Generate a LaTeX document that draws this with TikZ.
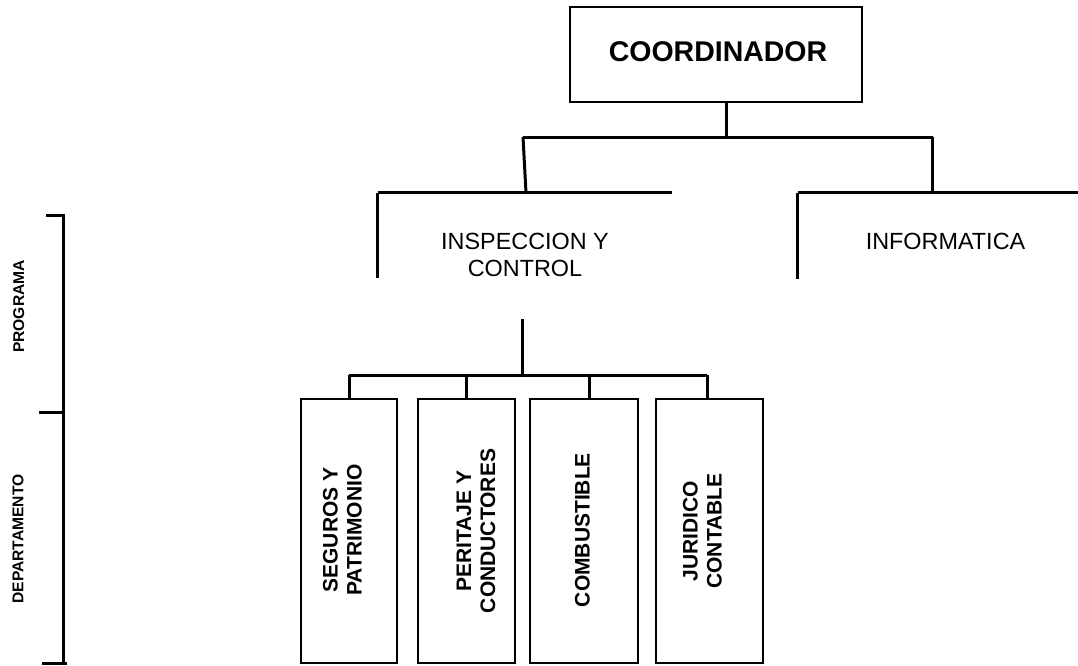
\documentclass[tikz,border=0pt]{standalone}
\usepackage{fontspec}
\setmainfont{Liberation Sans}
\begin{document}
\begin{tikzpicture}[x=1pt,y=-1pt,
  conn/.style={line width=3pt},
  box/.style={draw,line width=2.5pt,inner sep=0pt},
  frame/.style={inner sep=0pt},
  bigtitle/.style={font=\fontsize{28.5}{31}\selectfont\bfseries},
  prog/.style={font=\fontsize{23.4}{27}\selectfont, align=center, inner sep=0pt},
  dtext/.style={rotate=90, font=\fontsize{21}{24}\selectfont\bfseries, align=center, inner sep=0pt},
  side/.style={rotate=90, font=\fontsize{15.6}{18}\selectfont\bfseries, inner sep=0pt}]
\useasboundingbox (0,0) rectangle (1078,665);

% top box
\node[draw, line width=2pt, minimum width=292pt, minimum height=95pt, inner sep=0pt] (coord) at (716,54.5) {};
\node[bigtitle, inner sep=0pt] (coordtext) at (718,52) {COORDINADOR};

% programme frames
\node[frame, minimum width=294pt, minimum height=85pt] (insp) at (525,235.5) {};
\node[prog] (insptext) at (525,255.3) {INSPECCION Y\\CONTROL};
\draw[conn] (insp.north west) -- (insp.south west);
\draw[conn] (insp.north west) -- (insp.north east);

\node[frame, minimum width=280pt, minimum height=86pt] (info) at (938,236) {};
\node[prog] (infotext) at (945.5,241.7) {INFORMATICA};
\draw[conn] (info.north west) -- (info.south west);
\draw[conn] (info.north west) -- (info.north east);

% department boxes
\node[box, minimum width=96pt, minimum height=264pt] (d1) at (349,531) {};
\node[box, minimum width=97pt, minimum height=264pt] (d2) at (466.5,531) {};
\node[box, minimum width=108pt, minimum height=264pt] (d3) at (584,531) {};
\node[box, minimum width=107pt, minimum height=264pt] (d4) at (709.5,531) {};
\node[dtext] (d1t) at (342.5,530) {SEGUROS Y\\PATRIMONIO};
\node[dtext] (d2t) at (476,531) {PERITAJE Y\\CONDUCTORES};
\node[dtext] (d3t) at (582.5,530) {COMBUSTIBLE};
\node[dtext] (d4t) at (702.5,531) {JURIDICO\\CONTABLE};

% connectors, top level
\coordinate (t1) at (726,137);
\coordinate (b1L) at (523,137);
\coordinate (b1R) at (932.5,137);
\draw[conn] (coord.south -| t1) -- (t1);
\draw[conn] (b1L) -- (b1R);
\draw[conn] (b1L) -- ([xshift=3pt]b1L |- insp.north);
\draw[conn] (b1R) -- (b1R |- info.north);

% connectors, departments
\coordinate (t2) at (522,319);
\coordinate (t2b) at (522,375);
\coordinate (c1) at (349,375);
\coordinate (c2) at (466,375);
\coordinate (c3) at (589,375);
\coordinate (c4) at (707,375);
\draw[conn] (t2) -- (t2b);
\draw[conn] (c1) -- (c4);
\draw[conn] (c1) -- (c1 |- d1.north);
\draw[conn] (c2) -- (c2 |- d2.north);
\draw[conn] (c3) -- (c3 |- d3.north);
\draw[conn] (c4) -- (c4 |- d4.north);

% side bracket
\node[side] (lprog) at (18.8,306.5) {PROGRAMA};
\node[side] (ldep) at (18,539) {DEPARTAMENTO};
\draw[conn] (46,215) -- (63,215) -- (63,663);
\draw[conn] (39,412) -- (63,412);
\draw[conn] (42,663) -- (67,663);
\end{tikzpicture}
\end{document}
